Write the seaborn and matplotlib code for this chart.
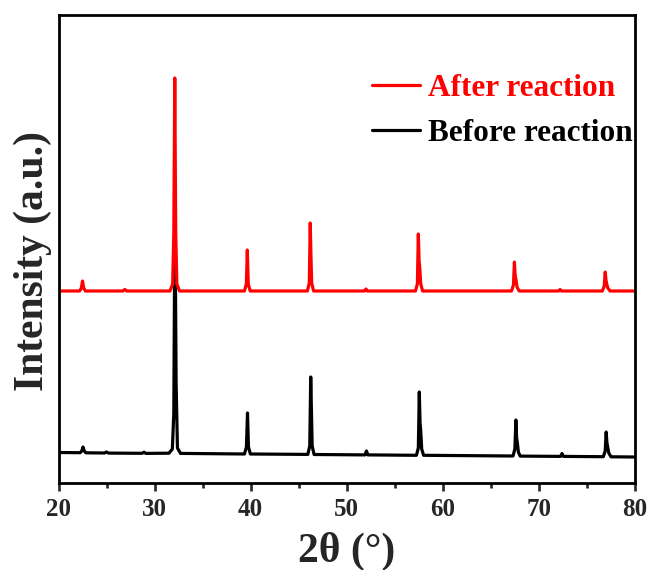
import numpy as np
import pandas as pd
import seaborn as sns
from matplotlib import pyplot as plt
from matplotlib.ticker import MultipleLocator

# XRD patterns (2theta in degrees, intensity in arbitrary units)
after_2theta = [20, 22.2, 22.38, 22.5, 22.62, 22.8,
                26.7, 26.9, 27.1,
                31.6, 31.88, 32.0, 32.1, 32.2, 32.32, 32.6,
                39.35, 39.55, 39.65, 39.75, 39.95,
                45.9, 46.1, 46.2, 46.28, 46.35, 46.55,
                51.85, 52.0, 52.15,
                57.15, 57.35, 57.45, 57.53, 57.6, 57.7, 57.9,
                67.15, 67.35, 67.45, 67.53, 67.62, 67.72, 67.95,
                72.05, 72.2, 72.35,
                76.6, 76.8, 76.9, 76.98, 77.06, 77.17, 77.4,
                80]
after_intensity = [192, 192, 195, 202, 195, 192,
                   192, 193.5, 192,
                   192, 199, 250, 405, 250, 199, 192,
                   192, 199, 233, 199, 192,
                   192, 200, 260, 225, 200, 192,
                   192, 194, 192,
                   192, 199, 249, 222, 215, 199, 192,
                   192, 198, 221, 207, 203, 196, 192,
                   192, 193.5, 192,
                   192, 197, 211, 203, 199, 195, 192,
                   192]

before_2theta = [20, 22.25, 22.42, 22.55, 22.68, 22.85,
                 24.8, 25.0, 25.2,
                 28.7, 28.9, 29.1,
                 31.5, 31.85, 32.0, 32.12, 32.24, 32.38, 32.7,
                 39.35, 39.56, 39.67, 39.77, 39.97,
                 45.95, 46.15, 46.25, 46.33, 46.4, 46.6,
                 51.9, 52.05, 52.2,
                 57.25, 57.45, 57.55, 57.63, 57.7, 57.8, 58.0,
                 67.3, 67.5, 67.6, 67.68, 67.76, 67.86, 68.05,
                 72.25, 72.4, 72.55,
                 76.7, 76.9, 77.0, 77.08, 77.16, 77.27, 77.5,
                 80]
before_intensity = [30.5, 30.3, 32, 36, 32, 30.2,
                    30, 31, 29.9,
                    29.7, 30.8, 29.6,
                    29.8, 34, 70, 280, 100, 35, 29.6,
                    29.0, 36, 70, 36, 29.0,
                    28.6, 37, 106, 70, 37, 28.5,
                    28.1, 32, 28.1,
                    27.7, 35, 91, 60, 52, 34, 27.7,
                    27, 34, 63, 45, 40, 31, 26.9,
                    26.6, 29.5, 26.6,
                    26.3, 32, 51, 40, 36, 30, 26.2,
                    26]

x_ticks = [20, 30, 40, 50, 60, 70, 80]

sns.set_style('ticks')
plt.rcParams['font.family'] = ['Liberation Serif', 'DejaVu Serif']
plt.rcParams['font.weight'] = 'bold'

fig = plt.figure(figsize=(6.52, 5.70), dpi=100)
ax = fig.add_axes([58.5 / 652, 87 / 570, 576.5 / 652, 468 / 570])

sns.lineplot(x=before_2theta, y=before_intensity, color='black', linewidth=2.3,
             sort=False, estimator=None, label='Before reaction', ax=ax)
sns.lineplot(x=after_2theta, y=after_intensity, color='#ff0000', linewidth=2.3,
             sort=False, estimator=None, label='After reaction', ax=ax)

ax.set_xlim(20, 80)
ax.set_ylim(0, 468)
ax.set_xticks(x_ticks)
ax.xaxis.set_minor_locator(MultipleLocator(5))
ax.set_yticks([])
ax.tick_params(axis='x', which='major', direction='out', length=6, width=1.9, labelsize=18, pad=5)
ax.tick_params(axis='x', which='minor', direction='out', length=3.5, width=1.9)
for lbl in ax.get_xticklabels():
    lbl.set_fontweight('bold')
for side in ['top', 'right', 'bottom', 'left']:
    ax.spines[side].set_visible(True)
    ax.spines[side].set_linewidth(2.0)
    ax.spines[side].set_color('black')

ax.set_xlabel('2θ (°)', fontsize=30, fontweight='bold', labelpad=8)
ax.set_ylabel('Intensity (a.u.)', fontsize=30, fontweight='bold')
ax.yaxis.set_label_coords(-0.011, 0.474)

handles, labels = ax.get_legend_handles_labels()
leg = ax.legend(handles[::-1], labels[::-1], loc='upper left',
                bbox_to_anchor=((372 - 58.5) / 576.5, 0.875),
                frameon=False, fontsize=22.5, handlelength=1.55, handletextpad=0.25,
                labelspacing=0.54, borderaxespad=0, borderpad=0)
for text, col in zip(leg.get_texts(), ['#ff0000', 'black']):
    text.set_color(col)
    text.set_fontweight('bold')

fig.savefig('out.png', dpi=100)
